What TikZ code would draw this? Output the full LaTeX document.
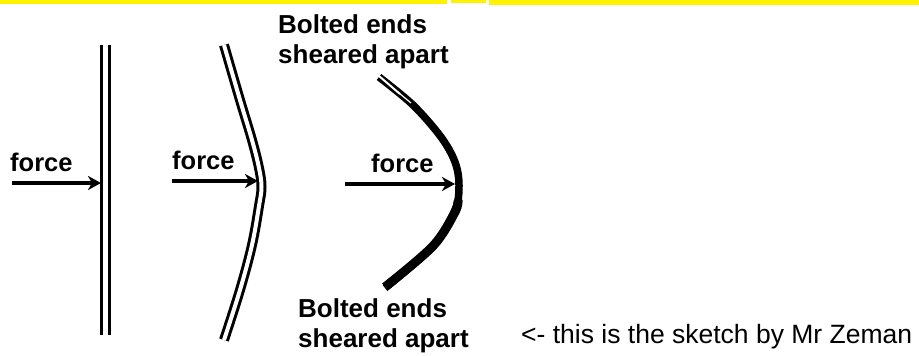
\documentclass[tikz,border=0pt]{standalone}
\usepackage{fontspec}
\setmainfont{Liberation Sans}
\usetikzlibrary{arrows.meta}
\tikzset{
  lbl/.style={anchor=base west, inner sep=0pt, font=\fontsize{26}{30}\selectfont\bfseries},
  flbl/.style={anchor=base west, inner sep=0pt, font=\fontsize{25.5}{30}\selectfont\bfseries},
  captext/.style={anchor=base west, inner sep=0pt, font=\fontsize{26.5}{31}\selectfont},
  beam/.style={line width=3pt, double=white, double distance=4.5pt},
  forcearrow/.style={line width=4pt, -{Stealth[length=13pt,width=14pt,inset=4pt]}},
  broken/.style={line width=7.5pt, line join=round}
}
\begin{document}
\begin{tikzpicture}[x=1pt,y=-1pt]
\useasboundingbox (0,0) rectangle (919,356);
\fill[white] (0,0) rectangle (919,356);
% yellow header bar
\fill[yellow] (0,0) rectangle (447,3.5);
\fill[yellow] (451,0) rectangle (486,3);
\fill[yellow] (489,0) rectangle (919,4.5);

% ---- straight beam ----
\coordinate (b1t) at (105.5,45);
\coordinate (b1b) at (105.5,335);
\draw[beam] (b1t) -- (b1b);
\coordinate (a1s) at (12,183);
\coordinate (a1e) at (101,183);
\draw[forcearrow] (a1s) -- (a1e);
\node[flbl] (f1) at (10,171) {force};

% ---- bent beam ----
\draw[beam, double distance=4pt] plot[smooth, tension=0.6] coordinates
  {(224,45) (240,100) (252,140) (259,168) (261.5,187) (259,206) (252,245) (240,290) (224,340)};
\coordinate (a2s) at (172,181);
\coordinate (a2e) at (258,181);
\draw[forcearrow] (a2s) -- (a2e);
\node[flbl] (f2) at (172,169) {force};

% ---- broken beam ----
\draw[broken] plot[smooth, tension=0.55] coordinates
  {(379,77) (413,105) (441,137) (455,162) (459,185) (455,210) (433,246) (385,288)};
\draw[line width=9pt] plot[smooth, tension=0.55] coordinates
  {(458,200) (455,212) (433,246) (385,287)};
\draw[white, line width=2pt] (379,76) -- (400,94);
\draw[white, line width=1.2pt] (399,93) -- (411,103);
\coordinate (a3s) at (345,184);
\coordinate (a3e) at (455,184);
\draw[forcearrow] (a3s) -- (a3e);
\node[flbl] (f3) at (371,172) {force};

% labels
\node[lbl] (t1) at (278,33) {Bolted ends};
\node[lbl] (t2) at (278,63) {sheared apart};
\node[lbl] (u1) at (298,317) {Bolted ends};
\node[lbl] (u2) at (298,347) {sheared apart};

% caption
\node[captext] (c) at (521,343) {<- this is the sketch by Mr Zeman};
\end{tikzpicture}
\end{document}
